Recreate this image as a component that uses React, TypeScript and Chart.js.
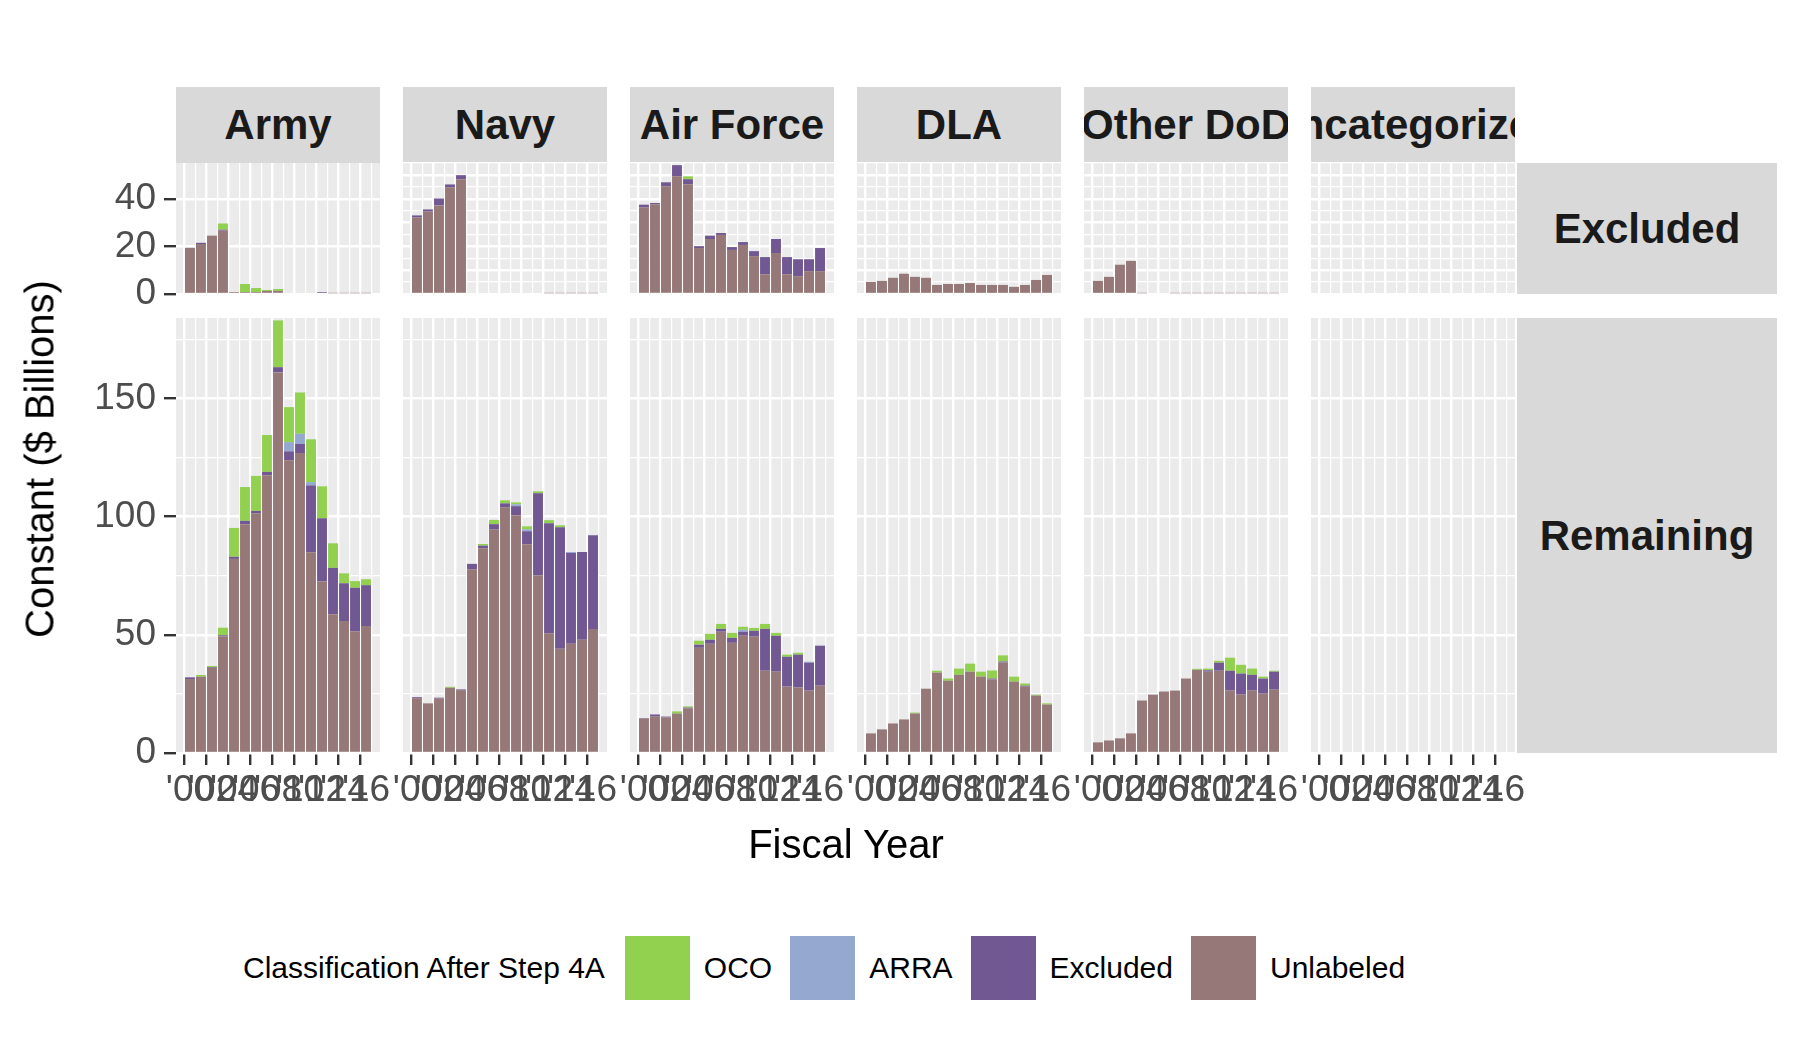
import { useEffect, useRef } from 'react';
import { Chart, registerables } from 'chart.js';

Chart.register(...registerables);

const years = [2000, 2001, 2002, 2003, 2004, 2005, 2006, 2007, 2008, 2009, 2010, 2011, 2012, 2013, 2014, 2015, 2016];
const services = ['Army', 'Navy', 'Air Force', 'DLA', 'Other DoD', 'Uncategorized'];
const rows = ['Excluded', 'Remaining'];
const classes = ['Unlabeled', 'Excluded', 'ARRA', 'OCO'];
const classColors = ['#967878', '#725892', '#95A8D0', '#92D050'];
const legendOrder = ['OCO', 'ARRA', 'Excluded', 'Unlabeled'];

const z = [0, 0, 0, 0, 0, 0, 0, 0, 0, 0, 0, 0, 0, 0, 0, 0, 0];

// Excluded row
const armyExcUnl = [19.4, 21, 24.5, 26.6, 0.8, 0.8, 0.8, 1.3, 1.3, 0.5, 0.5, 0.5, 0.5, 0.3, 0.3, 0.3, 0.3];
const armyExcExc = [0, 0.5, 0, 0.4, 0, 0, 0, 0, 0, 0, 0, 0, 0.3, 0, 0, 0, 0];
const armyExcOco = [0, 0, 0, 2.6, 0, 3.4, 1.7, 0.4, 0.8, 0, 0, 0, 0, 0, 0, 0, 0];
const navyExcUnl = [32.1, 34.6, 37.2, 44.8, 48.2, 0, 0, 0, 0, 0, 0, 0, 0.3, 0.3, 0.3, 0.3, 0.3];
const navyExcExc = [0.9, 0.9, 2.9, 1.2, 1.7, 0, 0, 0, 0, 0, 0, 0, 0, 0, 0, 0, 0];
const afExcUnl = [36.3, 37.7, 45.2, 49.4, 46.1, 19.3, 23.1, 24.8, 18.5, 20.6, 15.9, 8.3, 17.2, 8.3, 7.5, 9.6, 9.6];
const afExcExc = [1.2, 0.5, 1.7, 4.7, 2.1, 0.8, 1.4, 0.8, 1.2, 1.2, 2.1, 7.2, 5.9, 7.2, 7.1, 5, 9.7];
const afExcOco = [0, 0, 0, 0, 1.2, 0, 0, 0, 0, 0, 0, 0, 0, 0, 0, 0, 0];
const dlaExcUnl = [5.1, 5.5, 6.8, 8.5, 7.2, 6.8, 3.8, 4.2, 4.2, 4.6, 3.8, 3.8, 3.8, 3, 3.8, 5.9, 8];
const othExcUnl = [5.5, 7.2, 12.3, 13.9, 0.3, 0.5, 0.5, 0.3, 0.3, 0.3, 0.3, 0.3, 0.3, 0.3, 0.3, 0.3, 0.3];

// Remaining row
const armyRemUnl = [31.3, 32.3, 36, 49.4, 82.1, 96.8, 101.4, 117.5, 161, 123.8, 126.9, 84.9, 72.7, 58.7, 55.8, 51.5, 53.7];
const armyRemExc = [0.7, 0, 0.3, 0.4, 0.9, 1.4, 1, 1.4, 2.2, 3.8, 3.8, 28.3, 26.6, 19.6, 16, 18.4, 17.3];
const armyRemArra = [0, 0, 0, 0, 0, 0, 0, 0, 0, 3.9, 4.3, 1.4, 0, 0, 0, 0, 0];
const armyRemOco = [0, 0.7, 0.5, 3.2, 12.2, 14.3, 14.8, 15.6, 19.8, 14.8, 17.5, 18.1, 13.5, 10.4, 4.2, 2.8, 2.5];
const navyRemUnl = [23.2, 21, 23, 27.6, 26.6, 77.7, 86.6, 94.6, 103.9, 100.6, 88.3, 75.2, 50.7, 44.1, 46.2, 47.9, 52.5];
const navyRemExc = [0.4, 0, 0.4, 0, 0.3, 2.3, 1.1, 2.2, 1.7, 3.8, 5.5, 34.7, 46.5, 51.4, 38.4, 37.1, 39.6];
const navyRemArra = [0, 0, 0, 0, 0, 0, 0, 0, 0, 0.8, 0.8, 0, 0, 0, 0.4, 0, 0];
const navyRemOco = [0, 0, 0, 0.4, 0, 0, 0.7, 1.8, 1.3, 0.8, 1.3, 0.8, 1.3, 0.8, 0, 0, 0];
const afRemUnl = [14.6, 15.4, 15, 16.7, 18.8, 44.5, 46.2, 51.3, 46.6, 49.6, 49.2, 34.8, 34.4, 28.1, 27.7, 26.4, 28.5];
const afRemExc = [0.2, 0.9, 0.4, 0, 0.4, 1.3, 1.7, 1.2, 2.1, 1.7, 2.5, 17.7, 15.2, 12.6, 13.9, 11.8, 16.9];
const afRemArra = [0, 0, 0, 0, 0, 0, 0, 0, 0, 0.8, 0, 0, 0, 0, 0, 0.4, 0];
const afRemOco = [0, 0, 0, 0.9, 0.5, 1.7, 2.5, 2.1, 2.1, 1.3, 1.2, 2.1, 1.2, 0.9, 0.8, 0, 0];
const dlaRemUnl = [8.3, 10, 12.5, 14.2, 16.7, 27.2, 34, 30.6, 33.1, 34.4, 32.3, 31.1, 38.3, 30.2, 28.1, 24.3, 20.5];
const dlaRemExc = [0, 0, 0, 0, 0, 0, 0, 0, 0, 0, 0, 0.4, 0.4, 0, 0.4, 0, 0];
const dlaRemOco = [0, 0, 0, 0, 0.4, 0, 0.8, 0.9, 2.6, 3.4, 2.1, 3.4, 2.6, 2.1, 0.9, 0.4, 0.5];
const othRemUnl = [4.5, 5.3, 6.2, 8.3, 22.2, 24.7, 26, 26.4, 31.5, 35.2, 34.4, 34.8, 26.4, 24.7, 26.4, 25.1, 26.8];
const othRemExc = [0, 0, 0, 0, 0, 0, 0, 0, 0, 0, 0.6, 3.4, 8.4, 8.9, 6.7, 6.4, 7.6];
const othRemOco = [0, 0, 0, 0, 0, 0, 0, 0, 0, 0.4, 0.7, 0.8, 5.5, 3.7, 2.6, 0.8, 0.4];

// [unlabeled, excluded, arra, oco] per service, per row
const excludedRow = [
  [armyExcUnl, armyExcExc, z, armyExcOco],
  [navyExcUnl, navyExcExc, z, z],
  [afExcUnl, afExcExc, z, afExcOco],
  [dlaExcUnl, z, z, z],
  [othExcUnl, z, z, z],
  [z, z, z, z],
];
const remainingRow = [
  [armyRemUnl, armyRemExc, armyRemArra, armyRemOco],
  [navyRemUnl, navyRemExc, navyRemArra, navyRemOco],
  [afRemUnl, afRemExc, afRemArra, afRemOco],
  [dlaRemUnl, dlaRemExc, z, dlaRemOco],
  [othRemUnl, othRemExc, z, othRemOco],
  [z, z, z, z],
];

const FONT = '"Liberation Sans", Arial, sans-serif';
const M = 50;
const PANEL_X0 = 176;
const PANEL_STEP = 227;
const PANEL_W = 204;
const X_AXIS_H = 62;

const bgPlugin = {
  id: 'panelBg',
  beforeDraw(chart: any) {
    const { ctx, chartArea } = chart;
    ctx.save();
    ctx.fillStyle = '#EBEBEB';
    ctx.fillRect(chartArea.left, chartArea.top, chartArea.right - chartArea.left, chartArea.bottom - chartArea.top);
    ctx.restore();
  },
};

interface PanelProps {
  series: number[][];
  left: number;
  top: number;
  height: number;
  yMax: number;
  yStep: number;
  showY: boolean;
  showX: boolean;
}

function Panel({ series, left, top, height, yMax, yStep, showY, showX }: PanelProps) {
  const ref = useRef<HTMLCanvasElement>(null);
  const canvasLeft = showY ? 0 : left - M;
  const canvasTop = top - M;
  const w = left + PANEL_W + M - canvasLeft;
  const h = top + height + (showX ? X_AXIS_H : 0) + M - canvasTop;

  useEffect(() => {
    if (!ref.current) return;
    const chart = new Chart(ref.current, {
      type: 'bar',
      data: {
        datasets: classes.map((c, i) => ({
          label: c,
          data: years.map((y, j) => ({ x: y, y: series[i][j] })),
          backgroundColor: classColors[i],
          borderWidth: 0,
          barPercentage: 0.9,
          categoryPercentage: 1,
        })),
      },
      options: {
        animation: false,
        responsive: false,
        devicePixelRatio: 1,
        layout: { padding: { left: showY ? 0 : M, right: M, top: M, bottom: M } },
        plugins: { legend: { display: false }, tooltip: { enabled: false } },
        scales: {
          x: {
            type: 'linear',
            stacked: true,
            min: 1998.73,
            max: 2017.27,
            offset: false,
            afterBuildTicks: (s: any) => {
              const t = [];
              for (let v = 1999; v <= 2017; v++) t.push({ value: v });
              s.ticks = t;
            },
            afterFit: (s: any) => {
              s.height = showX ? X_AXIS_H : 0;
            },
            border: { display: false },
            grid: {
              color: '#FFFFFF',
              lineWidth: (c: any) => (c.tick && c.tick.value % 2 === 0 ? 2.4 : 1.2),
              drawTicks: showX,
              tickLength: 12,
              tickWidth: 2.4,
              tickColor: (c: any) => (c.tick && c.tick.value % 2 === 0 && c.tick.value <= 2016 ? '#333333' : 'rgba(0,0,0,0)'),
            },
            ticks: {
              display: showX,
              autoSkip: false,
              maxRotation: 0,
              minRotation: 0,
              padding: 4,
              color: '#4D4D4D',
              font: { family: FONT, size: 37 },
              callback: (v: any) =>
                v % 2 === 0 && v <= 2016 ? "'" + String(v % 100).padStart(2, '0') : '',
            },
          },
          y: {
            stacked: true,
            min: 0,
            max: yMax,
            afterBuildTicks: (s: any) => {
              const t = [];
              for (let v = 0; v <= yMax; v += yStep / 2) t.push({ value: v });
              s.ticks = t;
            },
            afterFit: (s: any) => {
              s.width = showY ? left : 0;
            },
            border: { display: false },
            grid: {
              color: '#FFFFFF',
              lineWidth: (c: any) => (c.tick && c.tick.value % yStep === 0 ? 2.4 : 1.2),
              drawTicks: showY,
              tickLength: 12,
              tickWidth: 2.4,
              tickColor: (c: any) => (c.tick && c.tick.value % yStep === 0 ? '#333333' : 'rgba(0,0,0,0)'),
            },
            ticks: {
              display: showY,
              padding: 8,
              color: '#4D4D4D',
              font: { family: FONT, size: 37 },
              callback: (v: any) => (v % yStep === 0 ? String(v) : ''),
            },
          },
        },
      },
      plugins: [bgPlugin],
    } as any);
    return () => chart.destroy();
  }, [series, left, top, height, yMax, yStep, showY, showX]);

  return (
    <canvas
      ref={ref}
      width={w}
      height={h}
      style={{ position: 'absolute', left: canvasLeft, top: canvasTop, width: w, height: h }}
    />
  );
}

const stripStyle: React.CSSProperties = {
  position: 'absolute',
  background: '#D9D9D9',
  color: '#1A1A1A',
  fontFamily: FONT,
  fontWeight: 'bold',
  fontSize: 42,
  display: 'flex',
  alignItems: 'center',
  justifyContent: 'center',
  overflow: 'hidden',
  whiteSpace: 'nowrap',
};

export default function App() {
  const rowGeom = [
    { top: 163, height: 131, yMax: 55, yStep: 10, data: excludedRow },
    { top: 318, height: 435, yMax: 184, yStep: 50, data: remainingRow },
  ];
  return (
    <div style={{ position: 'absolute', left: 0, top: 0, width: 1800, height: 1050, background: '#FFFFFF', overflow: 'hidden' }}>
      {services.map((s, i) => (
        <div key={s} style={{ ...stripStyle, left: PANEL_X0 + i * PANEL_STEP, top: 87, width: PANEL_W, height: 76 }}>
          {s}
        </div>
      ))}
      {rows.map((r, k) => (
        <div key={r} style={{ ...stripStyle, left: 1517, top: rowGeom[k].top, width: 260, height: rowGeom[k].height }}>
          {r}
        </div>
      ))}
      {rowGeom.map((g, k) =>
        services.map((s, i) => (
          <Panel
            key={s + k}
            series={g.data[i]}
            left={PANEL_X0 + i * PANEL_STEP}
            top={g.top}
            height={g.height}
            yMax={g.yMax}
            yStep={g.yStep}
            showY={i === 0}
            showX={k === 1}
          />
        ))
      )}
      <div style={{ position: 'absolute', left: 646, top: 822, width: 400, textAlign: 'center', fontFamily: FONT, fontSize: 40, color: '#000' }}>
        Fiscal Year
      </div>
      <div
        style={{
          position: 'absolute',
          left: 40,
          top: 459,
          transform: 'translate(-50%, -50%) rotate(-90deg)',
          whiteSpace: 'nowrap',
          fontFamily: FONT,
          fontSize: 40,
          color: '#000',
        }}
      >
        Constant ($ Billions)
      </div>
      <div style={{ position: 'absolute', left: 243, top: 936, height: 64, display: 'flex', alignItems: 'center', fontFamily: FONT, fontSize: 30, color: '#000' }}>
        <span style={{ marginRight: 20 }}>Classification After Step 4A</span>
        {legendOrder.map((c) => (
          <span key={c} style={{ display: 'flex', alignItems: 'center', marginRight: 18 }}>
            <span style={{ width: 65, height: 64, background: classColors[classes.indexOf(c)], display: 'inline-block', marginRight: 14 }} />
            {c}
          </span>
        ))}
      </div>
    </div>
  );
}
